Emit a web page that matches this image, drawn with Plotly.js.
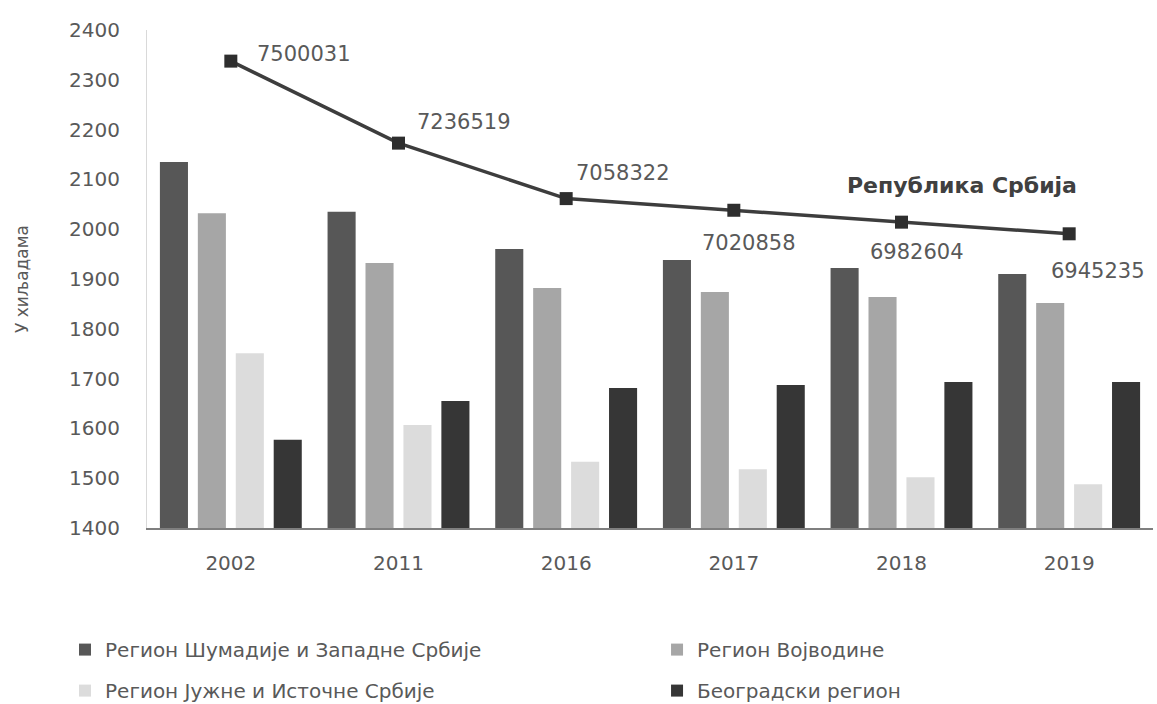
<!DOCTYPE html>
<html>
<head>
<meta charset="utf-8">
<script src="https://cdn.plot.ly/plotly-3.0.1.min.js"></script>
<style>html,body{margin:0;padding:0;background:#fff;}#chart{width:1157px;height:704px;}</style>
</head>
<body>
<div id="chart"></div>
<script>
var years = ["2002", "2011", "2016", "2017", "2018", "2019"];
var sumadija = [2135, 2035, 1960, 1938, 1922, 1910];
var vojvodina = [2032, 1932, 1882, 1874, 1864, 1852];
var juzna = [1751, 1607, 1533, 1518, 1502, 1488];
var beograd = [1577, 1655, 1681, 1687, 1693, 1693];
var republika = [7500031, 7236519, 7058322, 7020858, 6982604, 6945235];
var yTicks = [1400, 1500, 1600, 1700, 1800, 1900, 2000, 2100, 2200, 2300, 2400];

var FONT = "DejaVu Sans";
var GRAY = "#595959";

function barTrace(name, vals, color, legendId) {
  return {
    type: "bar", name: name, x: years, y: vals,
    marker: {color: color},
    legend: legendId, legendgroup: name,
    hoverinfo: "x+y"
  };
}

var traces = [
  barTrace("Регион Шумадије и Западне Србије", sumadija, "#575757", "legend"),
  barTrace("Регион Војводине", vojvodina, "#a6a6a6", "legend2"),
  barTrace("Регион Јужне и Источне Србије", juzna, "#dcdcdc", "legend"),
  barTrace("Београдски регион", beograd, "#363636", "legend2"),
  {
    type: "scatter", mode: "lines+markers", name: "Република Србија",
    x: years, y: republika, yaxis: "y2", showlegend: false,
    line: {color: "#3d3d3d", width: 3.5},
    marker: {symbol: "square", size: 13, color: "#2e2e2e"}
  }
];

var labelShift = [[24, 7], [16, 21], [8, 26], [-34, -33], [-34, -30], [-20, -37]];
var annotations = republika.map(function (v, i) {
  return {
    x: i, y: v, xref: "x", yref: "y2",
    text: String(v), showarrow: false,
    xanchor: "left", yanchor: "middle",
    xshift: labelShift[i][0], yshift: labelShift[i][1],
    font: {family: FONT, size: 21, color: GRAY}
  };
});
annotations.push({
  x: 0.81, y: 0.687, xref: "paper", yref: "paper",
  text: "<b>Република Србија</b>", showarrow: false,
  xanchor: "center", yanchor: "middle",
  font: {family: FONT, size: 22, color: "#404040"}
});

var legendCommon = {
  orientation: "v", xanchor: "left", yanchor: "top",
  font: {family: FONT, size: 20, color: GRAY},
  tracegroupgap: 12, itemwidth: 30, bgcolor: "rgba(0,0,0,0)"
};

var layout = {
  width: 1157, height: 704,
  margin: {l: 147, r: 4, t: 30, b: 176, autoexpand: false},
  paper_bgcolor: "#ffffff", plot_bgcolor: "#ffffff",
  font: {family: FONT, color: GRAY},
  barmode: "group", bargap: 0.095, bargroupgap: 0.26,
  xaxis: {
    type: "category", range: [-0.5, 5.5], autorange: false,
    showgrid: false, zeroline: false,
    showline: true, linecolor: "#7f7f7f", linewidth: 1.5,
    ticks: "", tickfont: {family: FONT, size: 20, color: GRAY},
    ticklabelstandoff: 16
  },
  yaxis: {
    range: [1400, 2400], tickvals: yTicks, showgrid: false, zeroline: false,
    showline: true, linecolor: "#d9d9d9", linewidth: 1,
    ticks: "", tickfont: {family: FONT, size: 20, color: GRAY},
    ticklabelstandoff: 22,
    title: {text: "У хиљадама", font: {family: FONT, size: 17, color: GRAY}, standoff: 36},
    automargin: false
  },
  yaxis2: {
    overlaying: "y", side: "right", range: [6000000, 7600000], visible: false
  },
  showlegend: true,
  legend: Object.assign({x: -0.0815, y: -0.205}, legendCommon),
  legend2: Object.assign({x: 0.507, y: -0.205}, legendCommon),
  annotations: annotations
};

Plotly.newPlot("chart", traces, layout, {displayModeBar: false, staticPlot: true});
</script>
</body>
</html>
